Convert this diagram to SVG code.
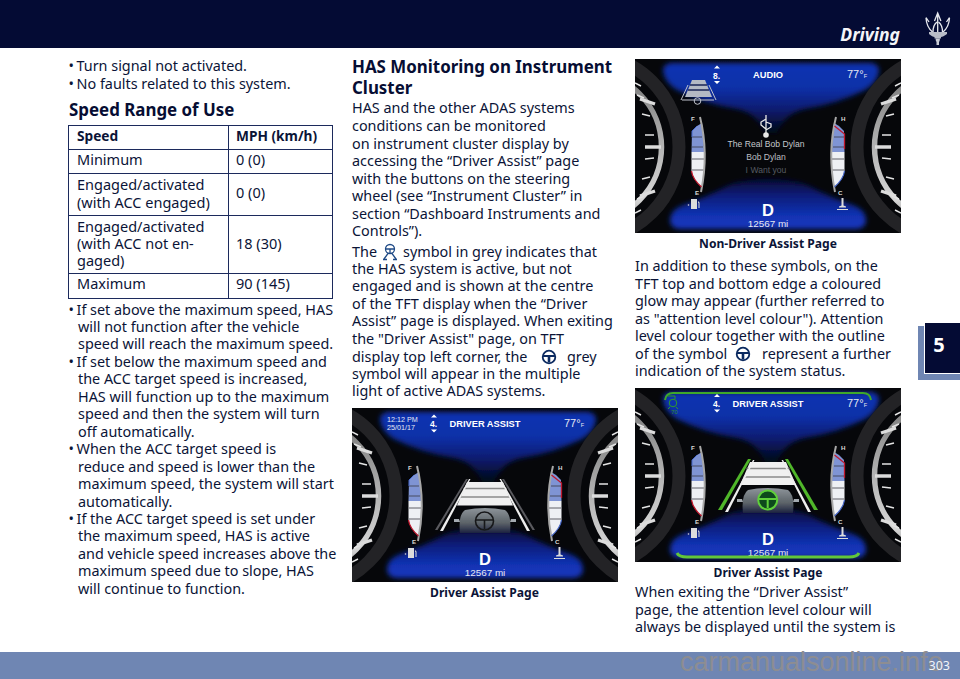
<svg xmlns="http://www.w3.org/2000/svg" xmlns:xlink="http://www.w3.org/1999/xlink" width="960" height="679" viewBox="0 0 960 679">
<style>
text{font-family:"Noto Sans","Open Sans",sans-serif;fill:#0b1437}
.b{font-size:14.4px}
.h{font-size:16.9px;font-weight:700;fill:#060d33}
.t{font-size:14.5px}
.th{font-size:13.7px;font-weight:700}
.c{font-size:12.1px;font-weight:700;fill:#0b1437}
.k{font-family:"Liberation Sans",Arial,sans-serif;fill:#e6e8f2}
.kb{font-family:"Liberation Sans",Arial,sans-serif;font-weight:700;fill:#fff}
.m{font-family:"Liberation Sans",Arial,sans-serif;font-size:8.6px}
.gl{font-family:"Liberation Sans",Arial,sans-serif;font-size:6.2px;font-weight:700;fill:#d8d8d8}
</style>
<defs>
<filter id="soft" x="-10%" y="-10%" width="120%" height="120%"><feGaussianBlur stdDeviation="2.500"/></filter>
<filter id="soft1" x="-10%" y="-10%" width="120%" height="120%"><feGaussianBlur stdDeviation=".6"/></filter>
<linearGradient id="gt" x1="0" y1="0" x2="0" y2="72" gradientUnits="userSpaceOnUse">
<stop offset="0" stop-color="#1232b4"/><stop offset=".4" stop-color="#1030a8"/><stop offset=".7" stop-color="#0a1c70"/><stop offset="1" stop-color="#04081c"/>
</linearGradient>
<linearGradient id="gb" x1="0" y1="118" x2="0" y2="170" gradientUnits="userSpaceOnUse">
<stop offset="0" stop-color="#05092a"/><stop offset=".35" stop-color="#0a1c78"/><stop offset=".75" stop-color="#1233b4"/><stop offset="1" stop-color="#1236bc"/>
</linearGradient>
<linearGradient id="sil" x1="0" y1="0" x2="0" y2="1"><stop offset="0" stop-color="#777"/><stop offset=".5" stop-color="#b4b4b4"/><stop offset=".85" stop-color="#d6d6d6"/><stop offset="1" stop-color="#999"/></linearGradient>
<linearGradient id="carg" x1="0" y1="0" x2="0" y2="1"><stop offset="0" stop-color="#8d949a"/><stop offset=".6" stop-color="#5c6368"/><stop offset="1" stop-color="#1c2240"/></linearGradient>
<clipPath id="cc"><rect width="266" height="174"/></clipPath>
<g id="bigl">
<circle cx="-49" cy="88" r="93" fill="none" stroke="#232326" stroke-width="13"/>
<circle cx="-49" cy="88" r="75.500" fill="none" stroke="url(#sil)" stroke-width="5.500"/>
<g stroke="#e4e4e4" stroke-width="1.500">
<path d="M0 24l6 3M2 36l7 3M7 55l8 2M10 76l9 0M10 100l9-1M7 120l8-2M2 140l7-3M0 154l6-3"/>
</g>
<g stroke="#dcdcdc" stroke-width="3.400"><path d="M5 40l15 5M10 88l16 0M5 137l15-5"/></g>
</g>
<g id="gauge">
<path d="M62 67l-5 5-.5 21h12.500q.5-14-2-29z" fill="#7f94d4"/>
<path d="M56.500 93v19q1 8 10 16l2-10q1.500-12 .5-25z" fill="#eef0f4"/>
<path d="M57 78h10M57 88h11M57 100h12M57 111h12" stroke="#3a3a44" stroke-width=".8"/>
<path d="M65 58q9 36 1 75" fill="none" stroke="#a8a8a8" stroke-width="2"/>
</g>
<g id="base">
<rect width="266" height="174" fill="#06070a"/>
<path d="M30 4h206q8 1 8 8q-2 12-14 19q-28 14-60 19q-20 4-28 24h-12q-8-20-28-24q-32-5-60-19q-12-7-14-19q0-7 8-8z" fill="url(#gt)" filter="url(#soft)"/>
<path d="M44 170q-9-1-9-9q1-11 13-15q24-8 40-17q16-9 45-9t45 9q16 9 40 17q12 4 13 15q0 8-9 9z" fill="url(#gb)" filter="url(#soft)"/>
<use xlink:href="#bigl"/>
<use xlink:href="#bigl" transform="translate(266 0) scale(-1 1)"/>
<use xlink:href="#gauge"/>
<g transform="translate(266 0) scale(-1 1)">
<use xlink:href="#gauge"/>
<path d="M66.500 67l-10 8v15" fill="none" stroke="#c0172c" stroke-width="1.300"/>
<path d="M56.500 112q1 8 10 16" fill="none" stroke="#4667c8" stroke-width="1.200"/>
</g>
<path d="M56.500 112q1 8 10 16" fill="none" stroke="#c0172c" stroke-width="1.300"/>
<path d="M62 67l-5 5v6" fill="none" stroke="#4667c8" stroke-width="1"/>
<text x="56" y="62" class="gl">F</text>
<text x="206" y="62" class="gl">H</text>
<text x="60" y="135.500" class="gl">E</text>
<text x="203" y="135.500" class="gl">C</text>
<g fill="#dcdcdc"><path d="M56 140h6v10h-6zM63 142l1.500 1.500v5.500h-1v-5l-.5-.5z"/><circle cx="53.500" cy="146" r=".8"/></g>
<path d="M206.500 139h2v7.500l2.500 1v1h-7v-1l2.500-1zM202 150h11v1h-11z" fill="#dcdcdc"/>
<text x="133" y="157" text-anchor="middle" class="kb" style="font-size:16.500px">D</text>
<text x="133" y="167.500" text-anchor="middle" class="k" style="font-size:9.900px">12567 mi</text>
<text x="232" y="18.500" text-anchor="end" class="k" style="font-size:11px">77°<tspan style="font-size:5.500px">F</tspan></text>
</g>
<g id="road">
<path d="M115 74h36l10 23.500h-56z" fill="#f0f0f0"/>
<path d="M111.500 80.500h43M108.500 89h49" stroke="#8a8a8a" stroke-width="1.600"/>
<path d="M114 71L83 122l2.500 0L116 71z" fill="#5a5a5f"/><path d="M117 71L88 123h3L118.500 71z" fill="#eee"/>
<path d="M152 71L183 122l-2.500 0L150 71z" fill="#5a5a5f"/><path d="M149 71L178 123h-3L147.500 71z" fill="#eee"/>
</g>
<g id="car">
<path d="M108 125q-2-18 5-23q20-4 40 0q7 5 5 23z" fill="url(#carg)" filter="url(#soft1)"/>
<path d="M107 111h-5v3h6zM159 111h5v3h-6z" fill="#a4aab0"/>
</g>
<g id="wheelIcon" fill="none" stroke="#0b2a60"><circle r="6.300" stroke-width="1.800"/><path d="M-6-1h12" stroke-width="2"/><path d="M0-1v6.500" stroke-width="2.600"/></g>
</defs>

<rect width="960" height="679" fill="#fff"/>
<rect id="header" width="960" height="48" fill="#040b34"/>
<text x="900" y="41" text-anchor="end" style="font-size:17.500px;font-weight:700;font-style:italic;fill:#f4f5f8">Driving</text>
<g id="logo">
<g fill="none" stroke="#e6e8ee" stroke-width="1.300">
<path d="M937.700 14V33M934.500 21l3.200-8 3.200 8"/>
<path d="M926 18q.5 9 6.500 14M929 22l-3-4.500 0 0M949.500 18q-.5 9-6.500 14M946.500 22l3-4.500"/>
<path d="M933 32q0-7 4-10M942.500 32q0-7-4-10"/>
</g>
<path d="M929 32h18v2q-4 3-6 3v1.500h-6.500V37q-2 0-5.500-3z" fill="#b9bdc8"/>
<path d="M935.500 38.500h4.500l-.5 3h-.5v3.500h-2.500v-3.500h-.5z" fill="#c9ccd5"/>
</g>
<rect id="footer" y="652" width="960" height="27" fill="#6f86b3"/>
<text x="680" y="671" style="font-family:'Liberation Sans',sans-serif;font-size:27px;fill:#8d8d92">carmanualsonline.info</text>
<text x="950" y="670" text-anchor="end" style="font-size:12.500px;fill:#f2f4f8">303</text>
<rect x="918" y="326" width="42" height="54" fill="#6f86b3"/>
<rect x="924.500" y="322.500" width="36" height="51" fill="#040b34" stroke="#fff" stroke-width="1"/>
<text x="939" y="352" text-anchor="middle" style="font-size:20px;font-weight:700;fill:#fff">5</text>

<text class="b" x="68.500" y="71">•</text><text class="b" x="76.500" y="71">Turn signal not activated.</text>
<text class="b" x="68.500" y="89">•</text><text class="b" x="76.500" y="89">No faults related to this system.</text>
<text class="h" x="69" y="116">Speed Range of Use</text>

<g fill="none" stroke="#1c2a5c" stroke-width="1">
<rect x="68.500" y="125.500" width="264" height="173"/>
<path d="M228.500 125.500V298.500M68.500 149.500H332.500M68.500 173.500H332.500M68.500 215.500H332.500M68.500 273.500H332.500"/>
</g>
<text class="th" x="77" y="141">Speed</text><text class="th" x="236" y="141">MPH (km/h)</text>
<text class="t" x="77" y="165">Minimum</text><text class="t" x="236" y="165">0 (0)</text>
<text class="t" x="77" y="190">Engaged/activated</text><text class="t" x="77" y="207.500">(with ACC engaged)</text><text class="t" x="236" y="198">0 (0)</text>
<text class="t" x="77" y="231.500">Engaged/activated</text><text class="t" x="77" y="249">(with ACC not en-</text><text class="t" x="77" y="266">gaged)</text><text class="t" x="236" y="249">18 (30)</text>
<text class="t" x="77" y="289">Maximum</text><text class="t" x="236" y="289">90 (145)</text>

<text class="b" x="68.500" y="314.500">•</text><text class="b" x="76.500" y="314.500">If set above the maximum speed, HAS</text>
<text class="b" x="78" y="332">will not function after the vehicle</text>
<text class="b" x="78" y="349.400">speed will reach the maximum speed.</text>
<text class="b" x="68.500" y="366.900">•</text><text class="b" x="76.500" y="366.900">If set below the maximum speed and</text>
<text class="b" x="78" y="384.300">the ACC target speed is increased,</text>
<text class="b" x="78" y="401.800">HAS will function up to the maximum</text>
<text class="b" x="78" y="419.200">speed and then the system will turn</text>
<text class="b" x="78" y="436.700">off automatically.</text>
<text class="b" x="68.500" y="454.100">•</text><text class="b" x="76.500" y="454.100">When the ACC target speed is</text>
<text class="b" x="78" y="471.600">reduce and speed is lower than the</text>
<text class="b" x="78" y="489">maximum speed, the system will start</text>
<text class="b" x="78" y="506.500">automatically.</text>
<text class="b" x="68.500" y="523.900">•</text><text class="b" x="76.500" y="523.900">If the ACC target speed is set under</text>
<text class="b" x="78" y="541.400">the maximum speed, HAS is active</text>
<text class="b" x="78" y="558.800">and vehicle speed increases above the</text>
<text class="b" x="78" y="576.300">maximum speed due to slope, HAS</text>
<text class="b" x="78" y="593.700">will continue to function.</text>

<text class="h" x="352" y="73">HAS Monitoring on Instrument</text>
<text class="h" x="352" y="94">Cluster</text>
<text class="b" x="352" y="113">HAS and the other ADAS systems</text>
<text class="b" x="352" y="131">conditions can be monitored</text>
<text class="b" x="352" y="148.500">on instrument cluster display by</text>
<text class="b" x="352" y="166">accessing the “Driver Assist” page</text>
<text class="b" x="352" y="183.500">with the buttons on the steering</text>
<text class="b" x="352" y="201">wheel (see “Instrument Cluster” in</text>
<text class="b" x="352" y="218.500">section “Dashboard Instruments and</text>
<text class="b" x="352" y="236">Controls”).</text>
<text class="b" x="352" y="256.700">The</text>
<g id="has-icon" fill="none" stroke="#1f4a86" stroke-width="1.300"><circle cx="390" cy="249" r="4.500"/><path d="M385.500 249h9M390 249v4.500M388 253.500l-4 5.500M392 253.500l4 5.500M383 259.500h4M393 259.500h4"/></g>
<text class="b" x="403" y="256.700">symbol in grey indicates that</text>
<text class="b" x="352" y="273.500">the HAS system is active, but not</text>
<text class="b" x="352" y="291">engaged and is shown at the centre</text>
<text class="b" x="352" y="308.500">of the TFT display when the “Driver</text>
<text class="b" x="352" y="326">Assist” page is displayed. When exiting</text>
<text class="b" x="352" y="343.500">the "Driver Assist" page, on TFT</text>
<text class="b" x="352" y="361.500">display top left corner, the</text>
<use xlink:href="#wheelIcon" x="549" y="357"/>
<text class="b" x="567" y="361.500">grey</text>
<text class="b" x="352" y="378.500">symbol will appear in the multiple</text>
<text class="b" x="352" y="396">light of active ADAS systems.</text>

<g id="cluster-a" transform="translate(352 408)" clip-path="url(#cc)">
<use xlink:href="#base"/><use xlink:href="#road"/><use xlink:href="#car"/>
<g fill="none" stroke="#17181a" stroke-width="1.600"><circle cx="132.500" cy="113" r="9"/><path d="M124 112h17M132.500 112v9"/></g>
<text x="35" y="13.500" class="k" style="font-size:7.200px">12:12 PM</text>
<text x="35" y="21.500" class="k" style="font-size:7.200px">25/01/17</text>
<text x="81.500" y="19" text-anchor="middle" class="kb" style="font-size:8.500px">4.</text>
<path d="M79 9.500h6l-3-3zM79 21.500h6l-3 3z" fill="#fff"/>
<text x="97.500" y="18.500" class="kb" style="font-size:9.300px">DRIVER ASSIST</text>
</g>
<text class="c" x="484.500" y="596.500" text-anchor="middle">Driver Assist Page</text>

<g id="cluster-b" transform="translate(635 59)" clip-path="url(#cc)">
<use xlink:href="#base"/>
<path d="M57 21h13l7 17H50z" fill="#b4b9c4"/>
<path d="M55 26h17M53 31h21" stroke="#1a2456" stroke-width="1.500"/>
<path d="M47 41h32" stroke="#c0c4cc" stroke-width="1"/>
<path d="M53 26L46 41M74 26L81 41" stroke="#c0c4cc" stroke-width="1"/>
<circle cx="62.500" cy="42" r="3.300" fill="none" stroke="#c0c4cc"/>
<text x="81.500" y="20" text-anchor="middle" class="kb" style="font-size:8.500px">8.</text>
<path d="M79 9.500h6l-3-3zM79 22h6l-3 3z" fill="#fff"/>
<text x="133" y="19.300" text-anchor="middle" class="kb" style="font-size:9.300px">AUDIO</text>
<g stroke="#e8e8e8" stroke-width="1.300" fill="none"><path d="M131 56v20M131 60l-5 3v3l5 4M131 63l5 2v3l-5 3"/></g>
<circle cx="131" cy="76" r="2.800" fill="#e8e8e8"/>
<text x="131" y="88.300" text-anchor="middle" class="m" style="fill:#c4c7cb">The Real Bob Dylan</text>
<text x="131" y="101.300" text-anchor="middle" class="m" style="fill:#bcbfc4">Bob Dylan</text>
<text x="131" y="114.300" text-anchor="middle" class="m" style="fill:#565b62">I Want you</text>
</g>
<text class="c" x="768" y="247.500" text-anchor="middle">Non-Driver Assist Page</text>

<text class="b" x="635" y="271">In addition to these symbols, on the</text>
<text class="b" x="635" y="288.500">TFT top and bottom edge a coloured</text>
<text class="b" x="635" y="306">glow may appear (further referred to</text>
<text class="b" x="635" y="323.500">as "attention level colour"). Attention</text>
<text class="b" x="635" y="341">level colour together with the outline</text>
<text class="b" x="635" y="358.500">of the symbol</text>
<use xlink:href="#wheelIcon" x="743" y="354"/>
<text class="b" x="762" y="358.500">represent a further</text>
<text class="b" x="635" y="376">indication of the system status.</text>

<g id="cluster-c" transform="translate(635 388)" clip-path="url(#cc)">
<use xlink:href="#base"/>
<path d="M30 12q1-7 8-7h190q7 0 8 7" fill="none" stroke="#3fa82a" stroke-width="2"/>
<path d="M42 165q2 4 10 4h162q8 0 10-4" fill="none" stroke="#62c63a" stroke-width="3"/>
<path d="M115 74h36l10 23h-56z" fill="#f0f0f0"/>
<path d="M111.500 80.500h43M108.500 89h49" stroke="#8a8a8a" stroke-width="1.600"/>
<path d="M113 71L83 122h4L116 71z" fill="#50b72a"/><path d="M118 72L90 124h3L119.500 72z" fill="#eee"/>
<path d="M153 71L183 122h-4L150 71z" fill="#50b72a"/><path d="M148 72L176 124h-3L146.500 72z" fill="#eee"/>
<use xlink:href="#car"/>
<circle cx="132.700" cy="112" r="9.500" fill="#0d4a1c" stroke="#5fd13a" stroke-width="2"/>
<path d="M124 111h17M132.700 111v9" stroke="#5fd13a" stroke-width="2"/>
<g stroke="#2f9a2a" fill="none" stroke-width="1"><circle cx="38" cy="15" r="3.800"/><path d="M33 8h7v3M35 19l-2 2M41 19l2 2"/></g>
<text x="36" y="26" class="k" style="font-size:6px;fill:#2e8b2a">70</text>
<text x="81.500" y="18.700" text-anchor="middle" class="kb" style="font-size:8.500px">4.</text>
<path d="M79 9h6l-3-3zM79 21.500h6l-3 3z" fill="#fff"/>
<text x="97.500" y="18.700" class="kb" style="font-size:9.300px">DRIVER ASSIST</text>
</g>
<text class="c" x="768" y="576.500" text-anchor="middle">Driver Assist Page</text>

<text class="b" x="635" y="597">When exiting the “Driver Assist”</text>
<text class="b" x="635" y="614.500">page, the attention level colour will</text>
<text class="b" x="635" y="632">always be displayed until the system is</text>
</svg>
